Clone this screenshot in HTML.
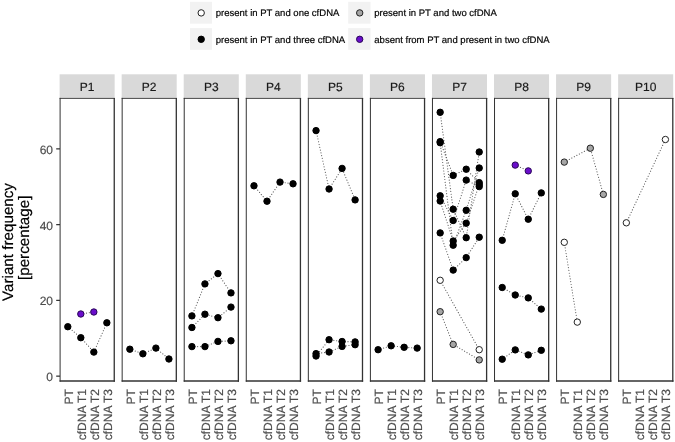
<!DOCTYPE html>
<html><head><meta charset="utf-8"><title>Variant frequency</title>
<style>html,body{margin:0;padding:0;background:#fff;overflow:hidden;}svg{display:block;will-change:transform;}text{font-family:"Liberation Sans",sans-serif;text-rendering:geometricPrecision;stroke-width:0.18px;}</style></head><body>
<svg width="675" height="442" viewBox="0 0 675 442">
<rect x="0" y="0" width="675" height="442" fill="#ffffff"/>
<rect x="189.95" y="1.8" width="22.0" height="21.9" fill="#f2f2f2"/>
<circle cx="201.20" cy="12.90" r="3.2" fill="#ffffff" stroke="#222222" stroke-width="1.0"/>
<text x="215.75" y="16.35" font-size="9.53" fill="#000" stroke="#000">present in PT and one cfDNA</text>
<rect x="348.2" y="1.8" width="22.3" height="21.9" fill="#f2f2f2"/>
<circle cx="359.70" cy="12.90" r="3.2" fill="#a6a6a6" stroke="#222222" stroke-width="1.0"/>
<text x="374.30" y="16.35" font-size="9.53" fill="#000" stroke="#000">present in PT and two cfDNA</text>
<rect x="189.95" y="28.1" width="22.0" height="21.7" fill="#f2f2f2"/>
<circle cx="201.20" cy="39.30" r="3.2" fill="#000000" stroke="#000000" stroke-width="1.0"/>
<text x="215.75" y="42.75" font-size="9.53" fill="#000" stroke="#000">present in PT and three cfDNA</text>
<rect x="348.2" y="28.1" width="22.3" height="21.7" fill="#f2f2f2"/>
<circle cx="359.70" cy="39.30" r="3.2" fill="#6a0dcb" stroke="#2a0858" stroke-width="1.0"/>
<text x="374.30" y="42.75" font-size="9.53" fill="#000" stroke="#000">absent from PT and present in two cfDNA</text>
<text transform="translate(12.9,242.0) rotate(-90)" text-anchor="middle" font-size="15.2" fill="#000" stroke="#000">Variant frequency</text>
<text transform="translate(29.2,237.8) rotate(-90)" text-anchor="middle" font-size="15.2" fill="#000" stroke="#000">[percentage]</text>
<line x1="56.2" x2="60.0" y1="376.15" y2="376.15" stroke="#333" stroke-width="1.25"/>
<text x="53.0" y="381.15" text-anchor="end" font-size="12.0" fill="#4d4d4d" stroke="#4d4d4d">0</text>
<line x1="56.2" x2="60.0" y1="300.39" y2="300.39" stroke="#333" stroke-width="1.25"/>
<text x="53.0" y="305.39" text-anchor="end" font-size="12.0" fill="#4d4d4d" stroke="#4d4d4d">20</text>
<line x1="56.2" x2="60.0" y1="224.63" y2="224.63" stroke="#333" stroke-width="1.25"/>
<text x="53.0" y="229.63" text-anchor="end" font-size="12.0" fill="#4d4d4d" stroke="#4d4d4d">40</text>
<line x1="56.2" x2="60.0" y1="148.87" y2="148.87" stroke="#333" stroke-width="1.25"/>
<text x="53.0" y="153.87" text-anchor="end" font-size="12.0" fill="#4d4d4d" stroke="#4d4d4d">60</text>
<rect x="59.60" y="74.3" width="55.05" height="23.40" fill="#d9d9d9"/>
<text x="87.12" y="90.85" text-anchor="middle" font-size="12.0" fill="#1a1a1a" stroke="#1a1a1a">P1</text>
<rect x="60.00" y="98.4" width="54.25" height="282.60" fill="#fff"/>
<path d="M60.10 97.90V381.70" stroke="#333" stroke-width="1.0" fill="none"/>
<path d="M114.25 97.90V381.70" stroke="#333" stroke-width="1.3" fill="none"/>
<path d="M59.60 98.35H114.90" stroke="#333" stroke-width="0.95" fill="none"/>
<path d="M59.60 381.00H114.90" stroke="#333" stroke-width="1.4" fill="none"/>
<path d="M67.80 326.70 L80.82 337.70 L93.84 352.10 L106.86 322.80" fill="none" stroke="#5a5a5a" stroke-width="1.15" stroke-linecap="round" stroke-dasharray="0.05 2.8"/>
<path d="M80.82 314.00 L93.84 312.00" fill="none" stroke="#5a5a5a" stroke-width="1.15" stroke-linecap="round" stroke-dasharray="0.05 2.8"/>
<circle cx="67.80" cy="326.70" r="3.2" fill="#000000" stroke="#000000" stroke-width="1.0"/>
<circle cx="80.82" cy="337.70" r="3.2" fill="#000000" stroke="#000000" stroke-width="1.0"/>
<circle cx="93.84" cy="352.10" r="3.2" fill="#000000" stroke="#000000" stroke-width="1.0"/>
<circle cx="106.86" cy="322.80" r="3.2" fill="#000000" stroke="#000000" stroke-width="1.0"/>
<circle cx="80.82" cy="314.00" r="3.2" fill="#6a0dcb" stroke="#2a0858" stroke-width="1.0"/>
<circle cx="93.84" cy="312.00" r="3.2" fill="#6a0dcb" stroke="#2a0858" stroke-width="1.0"/>
<text transform="translate(72.80,389.1) rotate(-90)" text-anchor="end" font-size="12.0" fill="#4d4d4d" stroke="#4d4d4d">PT</text>
<text transform="translate(85.82,389.1) rotate(-90)" text-anchor="end" font-size="12.0" fill="#4d4d4d" stroke="#4d4d4d">cfDNA T1</text>
<text transform="translate(98.84,389.1) rotate(-90)" text-anchor="end" font-size="12.0" fill="#4d4d4d" stroke="#4d4d4d">cfDNA T2</text>
<text transform="translate(111.86,389.1) rotate(-90)" text-anchor="end" font-size="12.0" fill="#4d4d4d" stroke="#4d4d4d">cfDNA T3</text>
<rect x="121.66" y="74.3" width="55.05" height="23.40" fill="#d9d9d9"/>
<text x="149.19" y="90.85" text-anchor="middle" font-size="12.0" fill="#1a1a1a" stroke="#1a1a1a">P2</text>
<rect x="122.06" y="98.4" width="54.25" height="282.60" fill="#fff"/>
<path d="M122.16 97.90V381.70" stroke="#333" stroke-width="1.0" fill="none"/>
<path d="M176.31 97.90V381.70" stroke="#333" stroke-width="1.3" fill="none"/>
<path d="M121.66 98.35H176.96" stroke="#333" stroke-width="0.95" fill="none"/>
<path d="M121.66 381.00H176.96" stroke="#333" stroke-width="1.4" fill="none"/>
<path d="M129.86 349.20 L142.88 353.80 L155.90 348.10 L168.92 359.00" fill="none" stroke="#5a5a5a" stroke-width="1.15" stroke-linecap="round" stroke-dasharray="0.05 2.8"/>
<circle cx="129.86" cy="349.20" r="3.2" fill="#000000" stroke="#000000" stroke-width="1.0"/>
<circle cx="142.88" cy="353.80" r="3.2" fill="#000000" stroke="#000000" stroke-width="1.0"/>
<circle cx="155.90" cy="348.10" r="3.2" fill="#000000" stroke="#000000" stroke-width="1.0"/>
<circle cx="168.92" cy="359.00" r="3.2" fill="#000000" stroke="#000000" stroke-width="1.0"/>
<text transform="translate(134.86,389.1) rotate(-90)" text-anchor="end" font-size="12.0" fill="#4d4d4d" stroke="#4d4d4d">PT</text>
<text transform="translate(147.88,389.1) rotate(-90)" text-anchor="end" font-size="12.0" fill="#4d4d4d" stroke="#4d4d4d">cfDNA T1</text>
<text transform="translate(160.90,389.1) rotate(-90)" text-anchor="end" font-size="12.0" fill="#4d4d4d" stroke="#4d4d4d">cfDNA T2</text>
<text transform="translate(173.92,389.1) rotate(-90)" text-anchor="end" font-size="12.0" fill="#4d4d4d" stroke="#4d4d4d">cfDNA T3</text>
<rect x="183.72" y="74.3" width="55.05" height="23.40" fill="#d9d9d9"/>
<text x="211.25" y="90.85" text-anchor="middle" font-size="12.0" fill="#1a1a1a" stroke="#1a1a1a">P3</text>
<rect x="184.12" y="98.4" width="54.25" height="282.60" fill="#fff"/>
<path d="M184.22 97.90V381.70" stroke="#333" stroke-width="1.0" fill="none"/>
<path d="M238.37 97.90V381.70" stroke="#333" stroke-width="1.3" fill="none"/>
<path d="M183.72 98.35H239.02" stroke="#333" stroke-width="0.95" fill="none"/>
<path d="M183.72 381.00H239.02" stroke="#333" stroke-width="1.4" fill="none"/>
<path d="M191.92 327.50 L204.94 314.20 L217.96 317.70 L230.98 307.10" fill="none" stroke="#5a5a5a" stroke-width="1.15" stroke-linecap="round" stroke-dasharray="0.05 2.8"/>
<path d="M191.92 315.90 L204.94 283.90 L217.96 273.60 L230.98 292.90" fill="none" stroke="#5a5a5a" stroke-width="1.15" stroke-linecap="round" stroke-dasharray="0.05 2.8"/>
<path d="M191.92 346.60 L204.94 346.60 L217.96 341.40 L230.98 340.80" fill="none" stroke="#5a5a5a" stroke-width="1.15" stroke-linecap="round" stroke-dasharray="0.05 2.8"/>
<circle cx="191.92" cy="327.50" r="3.2" fill="#000000" stroke="#000000" stroke-width="1.0"/>
<circle cx="204.94" cy="314.20" r="3.2" fill="#000000" stroke="#000000" stroke-width="1.0"/>
<circle cx="217.96" cy="317.70" r="3.2" fill="#000000" stroke="#000000" stroke-width="1.0"/>
<circle cx="230.98" cy="307.10" r="3.2" fill="#000000" stroke="#000000" stroke-width="1.0"/>
<circle cx="191.92" cy="315.90" r="3.2" fill="#000000" stroke="#000000" stroke-width="1.0"/>
<circle cx="204.94" cy="283.90" r="3.2" fill="#000000" stroke="#000000" stroke-width="1.0"/>
<circle cx="217.96" cy="273.60" r="3.2" fill="#000000" stroke="#000000" stroke-width="1.0"/>
<circle cx="230.98" cy="292.90" r="3.2" fill="#000000" stroke="#000000" stroke-width="1.0"/>
<circle cx="191.92" cy="346.60" r="3.2" fill="#000000" stroke="#000000" stroke-width="1.0"/>
<circle cx="204.94" cy="346.60" r="3.2" fill="#000000" stroke="#000000" stroke-width="1.0"/>
<circle cx="217.96" cy="341.40" r="3.2" fill="#000000" stroke="#000000" stroke-width="1.0"/>
<circle cx="230.98" cy="340.80" r="3.2" fill="#000000" stroke="#000000" stroke-width="1.0"/>
<text transform="translate(196.92,389.1) rotate(-90)" text-anchor="end" font-size="12.0" fill="#4d4d4d" stroke="#4d4d4d">PT</text>
<text transform="translate(209.94,389.1) rotate(-90)" text-anchor="end" font-size="12.0" fill="#4d4d4d" stroke="#4d4d4d">cfDNA T1</text>
<text transform="translate(222.96,389.1) rotate(-90)" text-anchor="end" font-size="12.0" fill="#4d4d4d" stroke="#4d4d4d">cfDNA T2</text>
<text transform="translate(235.98,389.1) rotate(-90)" text-anchor="end" font-size="12.0" fill="#4d4d4d" stroke="#4d4d4d">cfDNA T3</text>
<rect x="245.78" y="74.3" width="55.05" height="23.40" fill="#d9d9d9"/>
<text x="273.31" y="90.85" text-anchor="middle" font-size="12.0" fill="#1a1a1a" stroke="#1a1a1a">P4</text>
<rect x="246.18" y="98.4" width="54.25" height="282.60" fill="#fff"/>
<path d="M246.28 97.90V381.70" stroke="#333" stroke-width="1.0" fill="none"/>
<path d="M300.43 97.90V381.70" stroke="#333" stroke-width="1.3" fill="none"/>
<path d="M245.78 98.35H301.08" stroke="#333" stroke-width="0.95" fill="none"/>
<path d="M245.78 381.00H301.08" stroke="#333" stroke-width="1.4" fill="none"/>
<path d="M253.98 185.80 L267.00 201.20 L280.02 182.10 L293.04 183.80" fill="none" stroke="#5a5a5a" stroke-width="1.15" stroke-linecap="round" stroke-dasharray="0.05 2.8"/>
<circle cx="253.98" cy="185.80" r="3.2" fill="#000000" stroke="#000000" stroke-width="1.0"/>
<circle cx="267.00" cy="201.20" r="3.2" fill="#000000" stroke="#000000" stroke-width="1.0"/>
<circle cx="280.02" cy="182.10" r="3.2" fill="#000000" stroke="#000000" stroke-width="1.0"/>
<circle cx="293.04" cy="183.80" r="3.2" fill="#000000" stroke="#000000" stroke-width="1.0"/>
<text transform="translate(258.98,389.1) rotate(-90)" text-anchor="end" font-size="12.0" fill="#4d4d4d" stroke="#4d4d4d">PT</text>
<text transform="translate(272.00,389.1) rotate(-90)" text-anchor="end" font-size="12.0" fill="#4d4d4d" stroke="#4d4d4d">cfDNA T1</text>
<text transform="translate(285.02,389.1) rotate(-90)" text-anchor="end" font-size="12.0" fill="#4d4d4d" stroke="#4d4d4d">cfDNA T2</text>
<text transform="translate(298.04,389.1) rotate(-90)" text-anchor="end" font-size="12.0" fill="#4d4d4d" stroke="#4d4d4d">cfDNA T3</text>
<rect x="307.84" y="74.3" width="55.05" height="23.40" fill="#d9d9d9"/>
<text x="335.37" y="90.85" text-anchor="middle" font-size="12.0" fill="#1a1a1a" stroke="#1a1a1a">P5</text>
<rect x="308.24" y="98.4" width="54.25" height="282.60" fill="#fff"/>
<path d="M308.34 97.90V381.70" stroke="#333" stroke-width="1.0" fill="none"/>
<path d="M362.49 97.90V381.70" stroke="#333" stroke-width="1.3" fill="none"/>
<path d="M307.84 98.35H363.14" stroke="#333" stroke-width="0.95" fill="none"/>
<path d="M307.84 381.00H363.14" stroke="#333" stroke-width="1.4" fill="none"/>
<path d="M316.04 130.60 L329.06 189.00 L342.08 168.40 L355.10 199.90" fill="none" stroke="#5a5a5a" stroke-width="1.15" stroke-linecap="round" stroke-dasharray="0.05 2.8"/>
<path d="M316.04 356.00 L329.06 339.70 L342.08 341.50 L355.10 341.90" fill="none" stroke="#5a5a5a" stroke-width="1.15" stroke-linecap="round" stroke-dasharray="0.05 2.8"/>
<path d="M316.04 353.60 L329.06 352.00 L342.08 346.40 L355.10 344.70" fill="none" stroke="#5a5a5a" stroke-width="1.15" stroke-linecap="round" stroke-dasharray="0.05 2.8"/>
<circle cx="316.04" cy="130.60" r="3.2" fill="#000000" stroke="#000000" stroke-width="1.0"/>
<circle cx="329.06" cy="189.00" r="3.2" fill="#000000" stroke="#000000" stroke-width="1.0"/>
<circle cx="342.08" cy="168.40" r="3.2" fill="#000000" stroke="#000000" stroke-width="1.0"/>
<circle cx="355.10" cy="199.90" r="3.2" fill="#000000" stroke="#000000" stroke-width="1.0"/>
<circle cx="316.04" cy="356.00" r="3.2" fill="#000000" stroke="#000000" stroke-width="1.0"/>
<circle cx="329.06" cy="339.70" r="3.2" fill="#000000" stroke="#000000" stroke-width="1.0"/>
<circle cx="342.08" cy="341.50" r="3.2" fill="#000000" stroke="#000000" stroke-width="1.0"/>
<circle cx="355.10" cy="341.90" r="3.2" fill="#000000" stroke="#000000" stroke-width="1.0"/>
<circle cx="316.04" cy="353.60" r="3.2" fill="#000000" stroke="#000000" stroke-width="1.0"/>
<circle cx="329.06" cy="352.00" r="3.2" fill="#000000" stroke="#000000" stroke-width="1.0"/>
<circle cx="342.08" cy="346.40" r="3.2" fill="#000000" stroke="#000000" stroke-width="1.0"/>
<circle cx="355.10" cy="344.70" r="3.2" fill="#000000" stroke="#000000" stroke-width="1.0"/>
<text transform="translate(321.04,389.1) rotate(-90)" text-anchor="end" font-size="12.0" fill="#4d4d4d" stroke="#4d4d4d">PT</text>
<text transform="translate(334.06,389.1) rotate(-90)" text-anchor="end" font-size="12.0" fill="#4d4d4d" stroke="#4d4d4d">cfDNA T1</text>
<text transform="translate(347.08,389.1) rotate(-90)" text-anchor="end" font-size="12.0" fill="#4d4d4d" stroke="#4d4d4d">cfDNA T2</text>
<text transform="translate(360.10,389.1) rotate(-90)" text-anchor="end" font-size="12.0" fill="#4d4d4d" stroke="#4d4d4d">cfDNA T3</text>
<rect x="369.90" y="74.3" width="55.05" height="23.40" fill="#d9d9d9"/>
<text x="397.43" y="90.85" text-anchor="middle" font-size="12.0" fill="#1a1a1a" stroke="#1a1a1a">P6</text>
<rect x="370.30" y="98.4" width="54.25" height="282.60" fill="#fff"/>
<path d="M370.40 97.90V381.70" stroke="#333" stroke-width="1.0" fill="none"/>
<path d="M424.55 97.90V381.70" stroke="#333" stroke-width="1.3" fill="none"/>
<path d="M369.90 98.35H425.20" stroke="#333" stroke-width="0.95" fill="none"/>
<path d="M369.90 381.00H425.20" stroke="#333" stroke-width="1.4" fill="none"/>
<path d="M378.10 349.70 L391.12 345.80 L404.14 347.30 L417.16 348.10" fill="none" stroke="#5a5a5a" stroke-width="1.15" stroke-linecap="round" stroke-dasharray="0.05 2.8"/>
<circle cx="378.10" cy="349.70" r="3.2" fill="#000000" stroke="#000000" stroke-width="1.0"/>
<circle cx="391.12" cy="345.80" r="3.2" fill="#000000" stroke="#000000" stroke-width="1.0"/>
<circle cx="404.14" cy="347.30" r="3.2" fill="#000000" stroke="#000000" stroke-width="1.0"/>
<circle cx="417.16" cy="348.10" r="3.2" fill="#000000" stroke="#000000" stroke-width="1.0"/>
<text transform="translate(383.10,389.1) rotate(-90)" text-anchor="end" font-size="12.0" fill="#4d4d4d" stroke="#4d4d4d">PT</text>
<text transform="translate(396.12,389.1) rotate(-90)" text-anchor="end" font-size="12.0" fill="#4d4d4d" stroke="#4d4d4d">cfDNA T1</text>
<text transform="translate(409.14,389.1) rotate(-90)" text-anchor="end" font-size="12.0" fill="#4d4d4d" stroke="#4d4d4d">cfDNA T2</text>
<text transform="translate(422.16,389.1) rotate(-90)" text-anchor="end" font-size="12.0" fill="#4d4d4d" stroke="#4d4d4d">cfDNA T3</text>
<rect x="431.96" y="74.3" width="55.05" height="23.40" fill="#d9d9d9"/>
<text x="459.49" y="90.85" text-anchor="middle" font-size="12.0" fill="#1a1a1a" stroke="#1a1a1a">P7</text>
<rect x="432.36" y="98.4" width="54.25" height="282.60" fill="#fff"/>
<path d="M432.46 97.90V381.70" stroke="#333" stroke-width="1.0" fill="none"/>
<path d="M486.61 97.90V381.70" stroke="#333" stroke-width="1.3" fill="none"/>
<path d="M431.96 98.35H487.26" stroke="#333" stroke-width="0.95" fill="none"/>
<path d="M431.96 381.00H487.26" stroke="#333" stroke-width="1.4" fill="none"/>
<path d="M440.16 112.30 L453.18 209.20 L466.20 237.70 L479.22 152.00" fill="none" stroke="#5a5a5a" stroke-width="1.15" stroke-linecap="round" stroke-dasharray="0.05 2.8"/>
<path d="M440.16 141.60 L453.18 175.40 L466.20 169.20 L479.22 182.60" fill="none" stroke="#5a5a5a" stroke-width="1.15" stroke-linecap="round" stroke-dasharray="0.05 2.8"/>
<path d="M440.16 142.70 L453.18 245.20 L466.20 210.30 L479.22 168.00" fill="none" stroke="#5a5a5a" stroke-width="1.15" stroke-linecap="round" stroke-dasharray="0.05 2.8"/>
<path d="M440.16 195.80 L453.18 220.50 L466.20 180.10 L479.22 186.60" fill="none" stroke="#5a5a5a" stroke-width="1.15" stroke-linecap="round" stroke-dasharray="0.05 2.8"/>
<path d="M440.16 201.00 L453.18 241.00 L466.20 223.20 L479.22 184.60" fill="none" stroke="#5a5a5a" stroke-width="1.15" stroke-linecap="round" stroke-dasharray="0.05 2.8"/>
<path d="M440.16 232.90 L453.18 270.10 L466.20 257.60 L479.22 237.20" fill="none" stroke="#5a5a5a" stroke-width="1.15" stroke-linecap="round" stroke-dasharray="0.05 2.8"/>
<path d="M440.16 280.30 L479.22 349.70" fill="none" stroke="#5a5a5a" stroke-width="1.15" stroke-linecap="round" stroke-dasharray="0.05 2.8"/>
<path d="M440.16 311.70 L453.18 344.40 L479.22 359.90" fill="none" stroke="#5a5a5a" stroke-width="1.15" stroke-linecap="round" stroke-dasharray="0.05 2.8"/>
<circle cx="440.16" cy="112.30" r="3.2" fill="#000000" stroke="#000000" stroke-width="1.0"/>
<circle cx="453.18" cy="209.20" r="3.2" fill="#000000" stroke="#000000" stroke-width="1.0"/>
<circle cx="466.20" cy="237.70" r="3.2" fill="#000000" stroke="#000000" stroke-width="1.0"/>
<circle cx="479.22" cy="152.00" r="3.2" fill="#000000" stroke="#000000" stroke-width="1.0"/>
<circle cx="440.16" cy="141.60" r="3.2" fill="#000000" stroke="#000000" stroke-width="1.0"/>
<circle cx="453.18" cy="175.40" r="3.2" fill="#000000" stroke="#000000" stroke-width="1.0"/>
<circle cx="466.20" cy="169.20" r="3.2" fill="#000000" stroke="#000000" stroke-width="1.0"/>
<circle cx="479.22" cy="182.60" r="3.2" fill="#000000" stroke="#000000" stroke-width="1.0"/>
<circle cx="440.16" cy="142.70" r="3.2" fill="#000000" stroke="#000000" stroke-width="1.0"/>
<circle cx="453.18" cy="245.20" r="3.2" fill="#000000" stroke="#000000" stroke-width="1.0"/>
<circle cx="466.20" cy="210.30" r="3.2" fill="#000000" stroke="#000000" stroke-width="1.0"/>
<circle cx="479.22" cy="168.00" r="3.2" fill="#000000" stroke="#000000" stroke-width="1.0"/>
<circle cx="440.16" cy="195.80" r="3.2" fill="#000000" stroke="#000000" stroke-width="1.0"/>
<circle cx="453.18" cy="220.50" r="3.2" fill="#000000" stroke="#000000" stroke-width="1.0"/>
<circle cx="466.20" cy="180.10" r="3.2" fill="#000000" stroke="#000000" stroke-width="1.0"/>
<circle cx="479.22" cy="186.60" r="3.2" fill="#000000" stroke="#000000" stroke-width="1.0"/>
<circle cx="440.16" cy="201.00" r="3.2" fill="#000000" stroke="#000000" stroke-width="1.0"/>
<circle cx="453.18" cy="241.00" r="3.2" fill="#000000" stroke="#000000" stroke-width="1.0"/>
<circle cx="466.20" cy="223.20" r="3.2" fill="#000000" stroke="#000000" stroke-width="1.0"/>
<circle cx="479.22" cy="184.60" r="3.2" fill="#000000" stroke="#000000" stroke-width="1.0"/>
<circle cx="440.16" cy="232.90" r="3.2" fill="#000000" stroke="#000000" stroke-width="1.0"/>
<circle cx="453.18" cy="270.10" r="3.2" fill="#000000" stroke="#000000" stroke-width="1.0"/>
<circle cx="466.20" cy="257.60" r="3.2" fill="#000000" stroke="#000000" stroke-width="1.0"/>
<circle cx="479.22" cy="237.20" r="3.2" fill="#000000" stroke="#000000" stroke-width="1.0"/>
<circle cx="440.16" cy="280.30" r="3.2" fill="#ffffff" stroke="#222222" stroke-width="1.0"/>
<circle cx="479.22" cy="349.70" r="3.2" fill="#ffffff" stroke="#222222" stroke-width="1.0"/>
<circle cx="440.16" cy="311.70" r="3.2" fill="#a6a6a6" stroke="#222222" stroke-width="1.0"/>
<circle cx="453.18" cy="344.40" r="3.2" fill="#a6a6a6" stroke="#222222" stroke-width="1.0"/>
<circle cx="479.22" cy="359.90" r="3.2" fill="#a6a6a6" stroke="#222222" stroke-width="1.0"/>
<text transform="translate(445.16,389.1) rotate(-90)" text-anchor="end" font-size="12.0" fill="#4d4d4d" stroke="#4d4d4d">PT</text>
<text transform="translate(458.18,389.1) rotate(-90)" text-anchor="end" font-size="12.0" fill="#4d4d4d" stroke="#4d4d4d">cfDNA T1</text>
<text transform="translate(471.20,389.1) rotate(-90)" text-anchor="end" font-size="12.0" fill="#4d4d4d" stroke="#4d4d4d">cfDNA T2</text>
<text transform="translate(484.22,389.1) rotate(-90)" text-anchor="end" font-size="12.0" fill="#4d4d4d" stroke="#4d4d4d">cfDNA T3</text>
<rect x="494.02" y="74.3" width="55.05" height="23.40" fill="#d9d9d9"/>
<text x="521.55" y="90.85" text-anchor="middle" font-size="12.0" fill="#1a1a1a" stroke="#1a1a1a">P8</text>
<rect x="494.42" y="98.4" width="54.25" height="282.60" fill="#fff"/>
<path d="M494.52 97.90V381.70" stroke="#333" stroke-width="1.0" fill="none"/>
<path d="M548.67 97.90V381.70" stroke="#333" stroke-width="1.3" fill="none"/>
<path d="M494.02 98.35H549.32" stroke="#333" stroke-width="0.95" fill="none"/>
<path d="M494.02 381.00H549.32" stroke="#333" stroke-width="1.4" fill="none"/>
<path d="M502.22 240.30 L515.24 193.80 L528.26 219.20 L541.28 192.90" fill="none" stroke="#5a5a5a" stroke-width="1.15" stroke-linecap="round" stroke-dasharray="0.05 2.8"/>
<path d="M502.22 287.50 L515.24 295.00 L528.26 297.90 L541.28 309.10" fill="none" stroke="#5a5a5a" stroke-width="1.15" stroke-linecap="round" stroke-dasharray="0.05 2.8"/>
<path d="M502.22 359.20 L515.24 349.90 L528.26 354.90 L541.28 350.30" fill="none" stroke="#5a5a5a" stroke-width="1.15" stroke-linecap="round" stroke-dasharray="0.05 2.8"/>
<path d="M515.24 165.10 L528.26 170.90" fill="none" stroke="#5a5a5a" stroke-width="1.15" stroke-linecap="round" stroke-dasharray="0.05 2.8"/>
<circle cx="502.22" cy="240.30" r="3.2" fill="#000000" stroke="#000000" stroke-width="1.0"/>
<circle cx="515.24" cy="193.80" r="3.2" fill="#000000" stroke="#000000" stroke-width="1.0"/>
<circle cx="528.26" cy="219.20" r="3.2" fill="#000000" stroke="#000000" stroke-width="1.0"/>
<circle cx="541.28" cy="192.90" r="3.2" fill="#000000" stroke="#000000" stroke-width="1.0"/>
<circle cx="502.22" cy="287.50" r="3.2" fill="#000000" stroke="#000000" stroke-width="1.0"/>
<circle cx="515.24" cy="295.00" r="3.2" fill="#000000" stroke="#000000" stroke-width="1.0"/>
<circle cx="528.26" cy="297.90" r="3.2" fill="#000000" stroke="#000000" stroke-width="1.0"/>
<circle cx="541.28" cy="309.10" r="3.2" fill="#000000" stroke="#000000" stroke-width="1.0"/>
<circle cx="502.22" cy="359.20" r="3.2" fill="#000000" stroke="#000000" stroke-width="1.0"/>
<circle cx="515.24" cy="349.90" r="3.2" fill="#000000" stroke="#000000" stroke-width="1.0"/>
<circle cx="528.26" cy="354.90" r="3.2" fill="#000000" stroke="#000000" stroke-width="1.0"/>
<circle cx="541.28" cy="350.30" r="3.2" fill="#000000" stroke="#000000" stroke-width="1.0"/>
<circle cx="515.24" cy="165.10" r="3.2" fill="#6a0dcb" stroke="#2a0858" stroke-width="1.0"/>
<circle cx="528.26" cy="170.90" r="3.2" fill="#6a0dcb" stroke="#2a0858" stroke-width="1.0"/>
<text transform="translate(507.22,389.1) rotate(-90)" text-anchor="end" font-size="12.0" fill="#4d4d4d" stroke="#4d4d4d">PT</text>
<text transform="translate(520.24,389.1) rotate(-90)" text-anchor="end" font-size="12.0" fill="#4d4d4d" stroke="#4d4d4d">cfDNA T1</text>
<text transform="translate(533.26,389.1) rotate(-90)" text-anchor="end" font-size="12.0" fill="#4d4d4d" stroke="#4d4d4d">cfDNA T2</text>
<text transform="translate(546.28,389.1) rotate(-90)" text-anchor="end" font-size="12.0" fill="#4d4d4d" stroke="#4d4d4d">cfDNA T3</text>
<rect x="556.08" y="74.3" width="55.05" height="23.40" fill="#d9d9d9"/>
<text x="583.61" y="90.85" text-anchor="middle" font-size="12.0" fill="#1a1a1a" stroke="#1a1a1a">P9</text>
<rect x="556.48" y="98.4" width="54.25" height="282.60" fill="#fff"/>
<path d="M556.58 97.90V381.70" stroke="#333" stroke-width="1.0" fill="none"/>
<path d="M610.73 97.90V381.70" stroke="#333" stroke-width="1.3" fill="none"/>
<path d="M556.08 98.35H611.38" stroke="#333" stroke-width="0.95" fill="none"/>
<path d="M556.08 381.00H611.38" stroke="#333" stroke-width="1.4" fill="none"/>
<path d="M564.28 162.10 L590.32 148.20 L603.34 194.40" fill="none" stroke="#5a5a5a" stroke-width="1.15" stroke-linecap="round" stroke-dasharray="0.05 2.8"/>
<path d="M564.28 242.30 L577.30 322.10" fill="none" stroke="#5a5a5a" stroke-width="1.15" stroke-linecap="round" stroke-dasharray="0.05 2.8"/>
<circle cx="564.28" cy="162.10" r="3.2" fill="#a6a6a6" stroke="#222222" stroke-width="1.0"/>
<circle cx="590.32" cy="148.20" r="3.2" fill="#a6a6a6" stroke="#222222" stroke-width="1.0"/>
<circle cx="603.34" cy="194.40" r="3.2" fill="#a6a6a6" stroke="#222222" stroke-width="1.0"/>
<circle cx="564.28" cy="242.30" r="3.2" fill="#ffffff" stroke="#222222" stroke-width="1.0"/>
<circle cx="577.30" cy="322.10" r="3.2" fill="#ffffff" stroke="#222222" stroke-width="1.0"/>
<text transform="translate(569.28,389.1) rotate(-90)" text-anchor="end" font-size="12.0" fill="#4d4d4d" stroke="#4d4d4d">PT</text>
<text transform="translate(582.30,389.1) rotate(-90)" text-anchor="end" font-size="12.0" fill="#4d4d4d" stroke="#4d4d4d">cfDNA T1</text>
<text transform="translate(595.32,389.1) rotate(-90)" text-anchor="end" font-size="12.0" fill="#4d4d4d" stroke="#4d4d4d">cfDNA T2</text>
<text transform="translate(608.34,389.1) rotate(-90)" text-anchor="end" font-size="12.0" fill="#4d4d4d" stroke="#4d4d4d">cfDNA T3</text>
<rect x="618.14" y="74.3" width="55.05" height="23.40" fill="#d9d9d9"/>
<text x="645.66" y="90.85" text-anchor="middle" font-size="12.0" fill="#1a1a1a" stroke="#1a1a1a">P10</text>
<rect x="618.54" y="98.4" width="54.25" height="282.60" fill="#fff"/>
<path d="M618.64 97.90V381.70" stroke="#333" stroke-width="1.0" fill="none"/>
<path d="M672.79 97.90V381.70" stroke="#333" stroke-width="1.3" fill="none"/>
<path d="M618.14 98.35H673.44" stroke="#333" stroke-width="0.95" fill="none"/>
<path d="M618.14 381.00H673.44" stroke="#333" stroke-width="1.4" fill="none"/>
<path d="M626.34 222.80 L665.40 139.50" fill="none" stroke="#5a5a5a" stroke-width="1.15" stroke-linecap="round" stroke-dasharray="0.05 2.8"/>
<circle cx="626.34" cy="222.80" r="3.2" fill="#ffffff" stroke="#222222" stroke-width="1.0"/>
<circle cx="665.40" cy="139.50" r="3.2" fill="#ffffff" stroke="#222222" stroke-width="1.0"/>
<text transform="translate(631.34,389.1) rotate(-90)" text-anchor="end" font-size="12.0" fill="#4d4d4d" stroke="#4d4d4d">PT</text>
<text transform="translate(644.36,389.1) rotate(-90)" text-anchor="end" font-size="12.0" fill="#4d4d4d" stroke="#4d4d4d">cfDNA T1</text>
<text transform="translate(657.38,389.1) rotate(-90)" text-anchor="end" font-size="12.0" fill="#4d4d4d" stroke="#4d4d4d">cfDNA T2</text>
<text transform="translate(670.40,389.1) rotate(-90)" text-anchor="end" font-size="12.0" fill="#4d4d4d" stroke="#4d4d4d">cfDNA T3</text>
</svg></body></html>
